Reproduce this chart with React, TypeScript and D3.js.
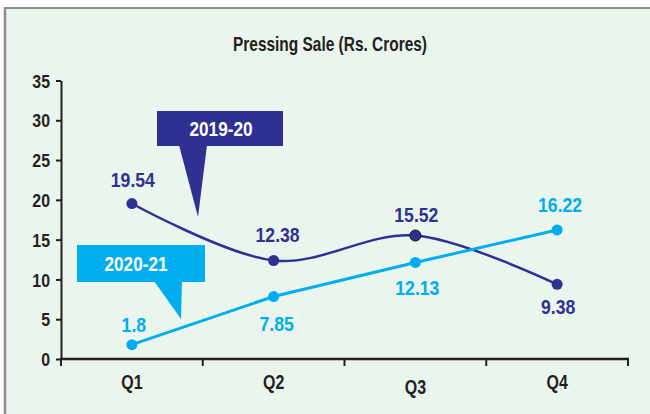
import React, { useEffect, useRef } from 'react';
import * as d3 from 'd3';

const quarters = ['Q1', 'Q2', 'Q3', 'Q4'];
const sales1920 = [19.54, 12.38, 15.52, 9.38];
const sales2021 = [1.8, 7.85, 12.13, 16.22];
const yTicks = [0, 5, 10, 15, 20, 25, 30, 35];

const DARK = '#2e3192';
const LIGHT = '#00aeef';
const INK = '#231f20';
const FONT = '"Liberation Sans", Arial, sans-serif';

const App = () => {
  const svgRef = useRef<SVGSVGElement>(null);

  useEffect(() => {
    const width = 650;
    const height = 414;
    const svg = d3.select(svgRef.current);
    svg.selectAll('*').remove();

    // background panel, grey frame only on top and left
    svg.append('rect').attr('width', width).attr('height', height).attr('fill', '#fff');
    svg.append('rect')
      .attr('x', 5).attr('y', 8)
      .attr('width', width).attr('height', height)
      .attr('fill', '#eaf5ee');
    svg.append('line').attr('x1', 5).attr('x2', 5).attr('y1', 7).attr('y2', height)
      .attr('stroke', '#8c8c8c').attr('stroke-width', 2.5);
    svg.append('line').attr('x1', 4).attr('x2', width).attr('y1', 8).attr('y2', 8)
      .attr('stroke', '#8c8c8c').attr('stroke-width', 2);

    // condensed bold text: Liberation Sans squeezed horizontally
    const label = (parent: any, x: number, y: number, txt: string, size: number, color: string, sx: number) =>
      parent.append('text')
        .attr('transform', `translate(${x},${y}) scale(${sx},1)`)
        .attr('text-anchor', 'middle')
        .style('font-family', FONT).style('font-weight', 'bold').style('font-size', size + 'px')
        .attr('fill', color)
        .text(txt);

    const x = d3.scaleBand().domain(quarters).range([61, 628]);
    const y = d3.scaleLinear().domain([0, 35]).range([359, 80.5]);
    const cx = (q: string) => (x(q) as number) + x.bandwidth() / 2;

    // title
    svg.append('text')
      .attr('x', 330).attr('y', 51)
      .attr('text-anchor', 'middle')
      .attr('textLength', 194).attr('lengthAdjust', 'spacingAndGlyphs')
      .style('font-family', FONT).style('font-weight', 'bold').style('font-size', '20.5px')
      .attr('fill', INK)
      .text('Pressing Sale (Rs. Crores)');

    // y axis
    const yAxis = svg.append('g').attr('transform', 'translate(61,0)')
      .call(d3.axisLeft(y).tickValues(yTicks).tickSize(5).tickSizeOuter(0).tickPadding(7.8));
    yAxis.select('.domain').attr('stroke', INK).attr('stroke-width', 2);
    yAxis.selectAll('line').attr('stroke', INK).attr('stroke-width', 2);
    yAxis.selectAll('text')
      .style('font-family', FONT).style('font-weight', 'bold').style('font-size', '18.5px')
      .attr('fill', INK).attr('dy', '0.36em')
      .attr('transform', 'scale(0.86,1)');

    // x axis: ticks at the band edges
    const xg = svg.append('g');
    xg.append('line')
      .attr('x1', 60).attr('x2', 629).attr('y1', y(0)).attr('y2', y(0))
      .attr('stroke', INK).attr('stroke-width', 2.5);
    const edges = quarters.map(q => x(q) as number).concat([x.range()[1]]);
    xg.selectAll('line.tick').data(edges).join('line')
      .attr('class', 'tick')
      .attr('x1', d => d).attr('x2', d => d)
      .attr('y1', y(0)).attr('y2', y(0) + 7)
      .attr('stroke', INK).attr('stroke-width', 2);
    quarters.forEach(q => label(xg, cx(q), q === 'Q3' ? 394 : 389, q, 20.5, INK, 0.78));

    // lines
    const darkLine = d3.line<number>()
      .x((_, i) => cx(quarters[i]))
      .y(d => y(d))
      .curve(d3.curveCardinal.tension(0));
    const lightLine = d3.line<number>()
      .x((_, i) => cx(quarters[i]))
      .y(d => y(d));

    svg.append('path').datum(sales1920)
      .attr('d', darkLine).attr('fill', 'none')
      .attr('stroke', DARK).attr('stroke-width', 2.5);
    svg.append('path').datum(sales2021)
      .attr('d', lightLine).attr('fill', 'none')
      .attr('stroke', LIGHT).attr('stroke-width', 3);

    svg.selectAll('circle.d').data(sales1920).join('circle')
      .attr('class', 'd')
      .attr('cx', (_, i) => cx(quarters[i])).attr('cy', d => y(d))
      .attr('r', 5.5).attr('fill', DARK)
      .attr('stroke', (_, i) => (i === 2 ? '#111' : 'none')).attr('stroke-width', 1);
    svg.selectAll('circle.l').data(sales2021).join('circle')
      .attr('class', 'l')
      .attr('cx', (_, i) => cx(quarters[i])).attr('cy', d => y(d))
      .attr('r', 5.5).attr('fill', LIGHT);

    // value labels (offsets are placement only)
    const darkOff = [[1, -17], [4, -18], [1, -14], [1, 30]];
    const lightOff = [[2, -13], [3, 34], [2, 33], [3, -18]];
    sales1920.forEach((v, i) =>
      label(svg, cx(quarters[i]) + darkOff[i][0], y(v) + darkOff[i][1], String(v), 21, DARK, 0.84));
    sales2021.forEach((v, i) =>
      label(svg, cx(quarters[i]) + lightOff[i][0], y(v) + lightOff[i][1], String(v), 21, LIGHT, 0.84));

    // callouts
    const callout = (txt: string, color: string, rect: number[], tri: number[][], tx: number, ty: number) => {
      const g = svg.append('g');
      g.append('rect')
        .attr('x', rect[0]).attr('y', rect[1]).attr('width', rect[2]).attr('height', rect[3])
        .attr('fill', color);
      g.append('path')
        .attr('d', 'M' + tri.map(p => p.join(',')).join('L') + 'Z')
        .attr('fill', color);
      label(g, tx, ty, txt, 19.5, '#fff', 0.88);
    };
    callout('2019-20', DARK, [157, 111, 126, 35], [[179, 145], [207, 145], [198, 217]], 221, 136);
    callout('2020-21', LIGHT, [77, 245, 128, 37], [[154, 281], [182, 281], [181, 319]], 136, 271);
  }, []);

  return (
    <svg
      ref={svgRef}
      width={650}
      height={414}
      style={{ position: 'absolute', left: 0, top: 0, display: 'block' }}
    />
  );
};

export default App;
